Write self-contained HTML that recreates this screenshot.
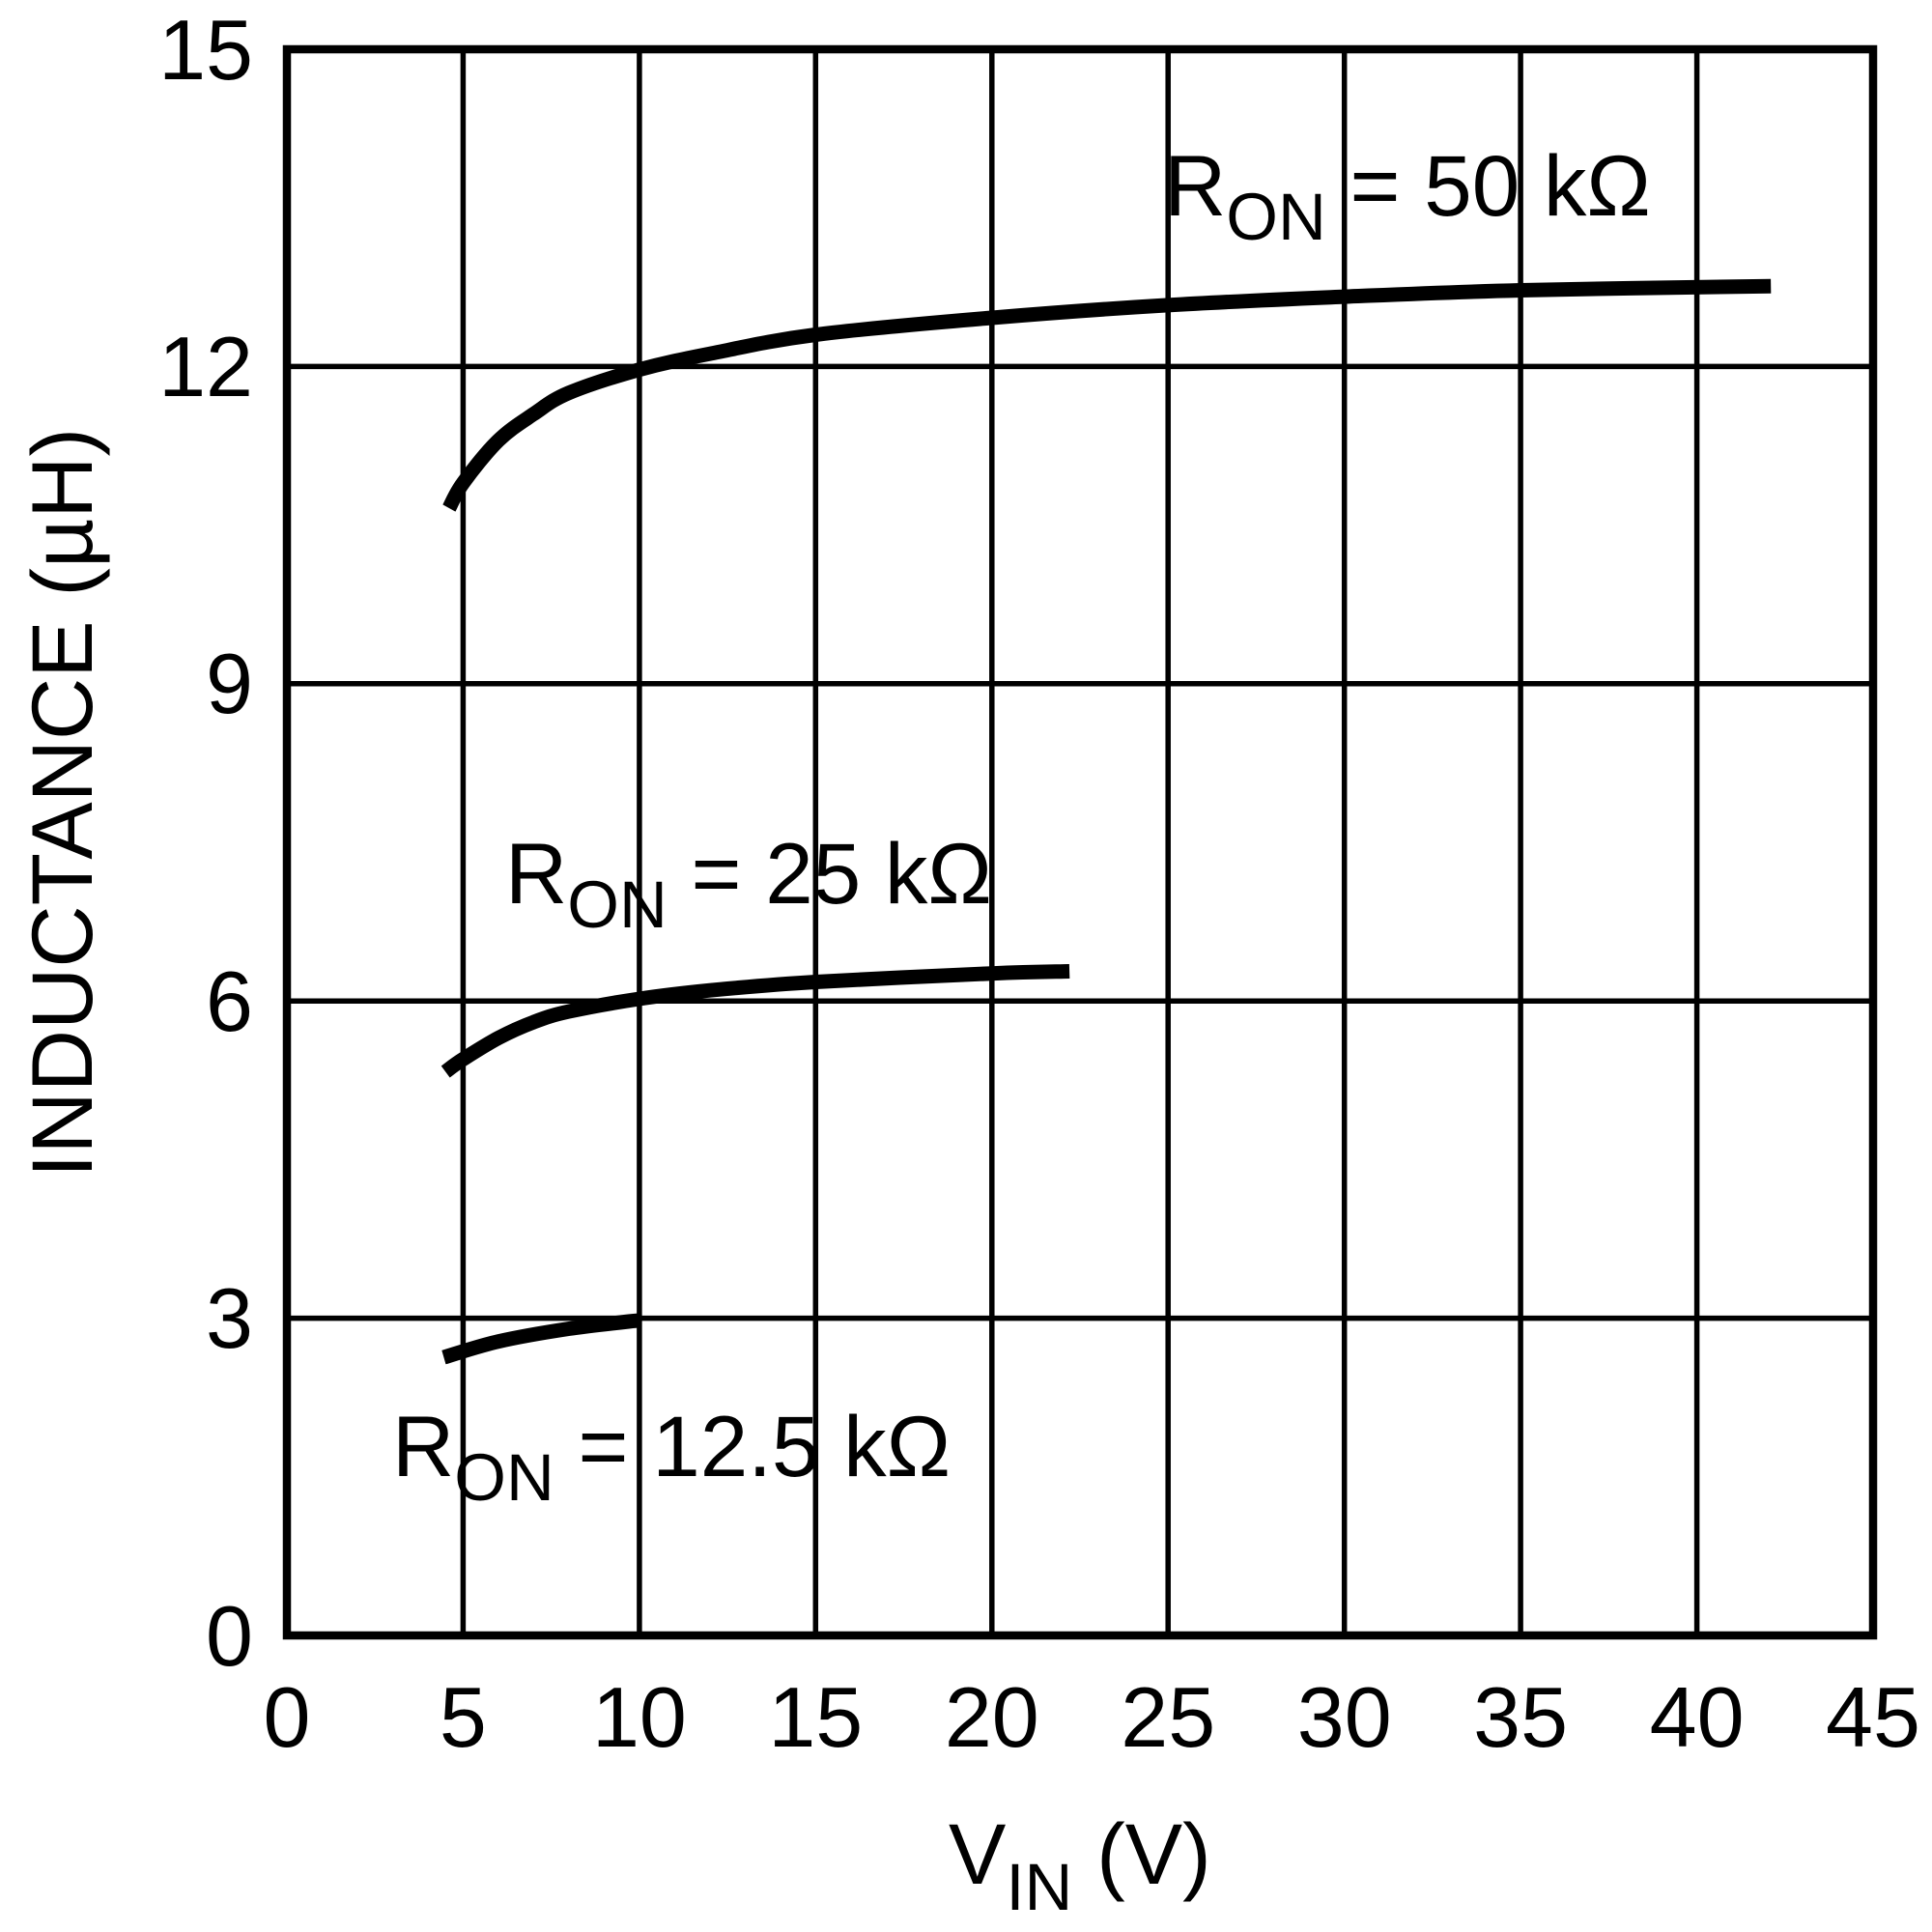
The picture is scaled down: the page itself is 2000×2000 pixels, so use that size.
<!DOCTYPE html>
<html><head><meta charset="utf-8"><style>
html,body{margin:0;padding:0;background:#fff;}
svg{display:block;font-family:"Liberation Sans",Arial,sans-serif;}
</style></head><body>
<svg width="2000" height="2000" viewBox="0 0 2000 2000" xmlns="http://www.w3.org/2000/svg">
<rect width="2000" height="2000" fill="#fff"/>
<g stroke="#000" stroke-width="5.5">
<line x1="479.4" y1="51" x2="479.4" y2="1693"/>
<line x1="661.9" y1="51" x2="661.9" y2="1693"/>
<line x1="844.3" y1="51" x2="844.3" y2="1693"/>
<line x1="1026.8" y1="51" x2="1026.8" y2="1693"/>
<line x1="1209.2" y1="51" x2="1209.2" y2="1693"/>
<line x1="1391.7" y1="51" x2="1391.7" y2="1693"/>
<line x1="1574.1" y1="51" x2="1574.1" y2="1693"/>
<line x1="1756.6" y1="51" x2="1756.6" y2="1693"/>
<line x1="297" y1="379.4" x2="1939" y2="379.4"/>
<line x1="297" y1="707.8" x2="1939" y2="707.8"/>
<line x1="297" y1="1036.2" x2="1939" y2="1036.2"/>
<line x1="297" y1="1364.6" x2="1939" y2="1364.6"/>
</g>
<rect x="297" y="51" width="1642" height="1642" fill="none" stroke="#000" stroke-width="8.5"/>
<g id="curves" fill="none" stroke="#000" stroke-width="15" stroke-linejoin="round"></g>
<g font-size="88" fill="#000" text-anchor="end">
<text x="262" y="82">15</text>
<text x="262" y="410">12</text>
<text x="262" y="738">9</text>
<text x="262" y="1067">6</text>
<text x="262" y="1395">3</text>
<text x="262" y="1724">0</text>
</g>
<g font-size="88" fill="#000" text-anchor="middle">
<text x="297" y="1808">0</text>
<text x="479.4" y="1808">5</text>
<text x="661.9" y="1808">10</text>
<text x="844.3" y="1808">15</text>
<text x="1026.8" y="1808">20</text>
<text x="1209.2" y="1808">25</text>
<text x="1391.7" y="1808">30</text>
<text x="1574.1" y="1808">35</text>
<text x="1756.6" y="1808">40</text>
<text x="1939" y="1808">45</text>
</g>
<text transform="translate(95,831) rotate(-90)" font-size="89" text-anchor="middle">INDUCTANCE (µH)</text>
<text x="982" y="1950" font-size="89">V<tspan font-size="69" dy="27">IN</tspan><tspan dy="-27"> (V)</tspan></text>
<text x="1205" y="223" font-size="89">R<tspan font-size="69" dy="25">ON</tspan><tspan dy="-25"> = 50 kΩ</tspan></text>
<text x="523" y="935" font-size="89">R<tspan font-size="69" dy="25">ON</tspan><tspan dy="-25"> = 25 kΩ</tspan></text>
<text x="406" y="1528" font-size="89">R<tspan font-size="69" dy="25">ON</tspan><tspan dy="-25"> = 12.5 kΩ</tspan></text>
</svg>
<script>
var S=[
[[4.6,10.66],[5,10.9],[6,11.3],[7,11.55],[8,11.75],[10,11.97],[12,12.12],[15,12.3],[20,12.46],[25,12.58],[30,12.66],[35,12.72],[42.1,12.76]],
[[4.5,5.33],[5,5.45],[6,5.65],[7,5.8],[8,5.9],[10,6.02],[12,6.1],[15,6.18],[20,6.26],[22.2,6.28]],
[[4.45,2.63],[6,2.78],[8,2.9],[10,2.98]]];
var g=document.getElementById('curves');
S.forEach(function(s){
 var P=s.map(function(p){return [297+p[0]*36.49,1693-p[1]*109.47];});
 var d='M'+P[0][0].toFixed(1)+','+P[0][1].toFixed(1);
 for(var i=0;i<P.length-1;i++){
  var p0=P[Math.max(i-1,0)],p1=P[i],p2=P[i+1],p3=P[Math.min(i+2,P.length-1)];
  var c1=[p1[0]+(p2[0]-p0[0])/6,p1[1]+(p2[1]-p0[1])/6];
  var c2=[p2[0]-(p3[0]-p1[0])/6,p2[1]-(p3[1]-p1[1])/6];
  d+=' C'+c1[0].toFixed(1)+','+c1[1].toFixed(1)+' '+c2[0].toFixed(1)+','+c2[1].toFixed(1)+' '+p2[0].toFixed(1)+','+p2[1].toFixed(1);
 }
 var e=document.createElementNS('http://www.w3.org/2000/svg','path');
 e.setAttribute('d',d);g.appendChild(e);
});
</script>
</body></html>
